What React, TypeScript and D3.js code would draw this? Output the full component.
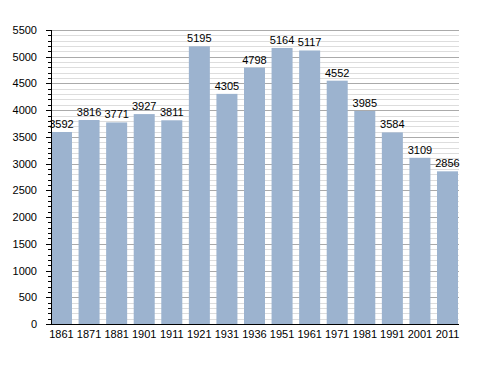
import React from 'react';
import * as d3 from 'd3';

const years = ['1861', '1871', '1881', '1901', '1911', '1921', '1931', '1936', '1951', '1961', '1971', '1981', '1991', '2001', '2011'];
const population = [3592, 3816, 3771, 3927, 3811, 5195, 4305, 4798, 5164, 5117, 4552, 3985, 3584, 3109, 2856];
const majorTicks = d3.range(0, 5501, 500);
const minorTicks = d3.range(0, 5501, 100).filter(v => v % 500 !== 0);

const config = {
    width: 488,
    height: 373,
    left: 51,
    right: 458,
    top: 30,
    bottom: 324,
    barColor: '#9cb3cf',
    font: '"Liberation Sans", Arial, sans-serif'
};

export default function App() {
    const { width, height, left, right, top, bottom, barColor, font } = config;
    const x = d3.scaleBand<string>().domain(years).range([left, right]).paddingInner(0.238).paddingOuter(0);
    const y = d3.scaleLinear().domain([0, 5500]).range([bottom, top]);

    return (
        <svg width={width} height={height} style={{ position: 'absolute', left: 0, top: 0 }}
             fontFamily={font} fontSize={11}>
            <rect width={width} height={height} fill="#fff" />
            {/* grid */}
            {minorTicks.map(v => (
                <line key={'m' + v} x1={left} x2={right + 1} y1={Math.round(y(v)) + 0.5} y2={Math.round(y(v)) + 0.5}
                      stroke="#dddddd" strokeWidth={1} />
            ))}
            {majorTicks.filter(v => v > 0).map(v => (
                <line key={'g' + v} x1={left} x2={right + 1} y1={Math.round(y(v)) + 0.5} y2={Math.round(y(v)) + 0.5}
                      stroke="#aaaaaa" strokeWidth={1} />
            ))}
            {/* bars */}
            {years.map((yr, i) => (
                <rect key={yr} x={x(yr)} y={y(population[i])} width={x.bandwidth()}
                      height={bottom - y(population[i])} fill={barColor} />
            ))}
            {years.map((yr, i) => (
                <text key={'v' + yr} x={(x(yr) as number) + x.bandwidth() / 2} y={y(population[i]) - 4}
                      textAnchor="middle" fill="#000">{population[i]}</text>
            ))}
            {/* axes */}
            <line x1={left + 0.5} x2={left + 0.5} y1={top} y2={bottom} stroke="#000" />
            <line x1={left} x2={right + 1} y1={bottom + 0.5} y2={bottom + 0.5} stroke="#000" />
            {minorTicks.map(v => (
                <line key={'mt' + v} x1={left - 3} x2={left} y1={Math.round(y(v)) + 0.5} y2={Math.round(y(v)) + 0.5} stroke="#000" />
            ))}
            {majorTicks.map(v => (
                <g key={'t' + v}>
                    <line x1={left - 5} x2={left} y1={Math.round(y(v)) + 0.5} y2={Math.round(y(v)) + 0.5} stroke="#000" />
                    <text x={left - 14} y={y(v) + 4} textAnchor="end" fill="#000">{v}</text>
                </g>
            ))}
            {years.map(yr => (
                <text key={'x' + yr} x={(x(yr) as number) + x.bandwidth() / 2} y={bottom + 14}
                      textAnchor="middle" fill="#000">{yr}</text>
            ))}
        </svg>
    );
}
